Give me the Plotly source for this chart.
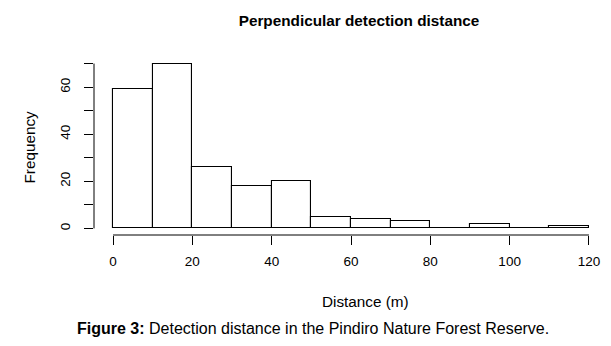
import plotly.graph_objects as go

# Histogram data (bin edges in metres, counts)
bin_edges = [0, 10, 20, 30, 40, 50, 60, 70, 80, 90, 100, 110, 120]
counts = [59, 70, 26, 18, 20, 5, 4, 3, 0, 2, 0, 1]
x_ticks = [0, 20, 40, 60, 80, 100, 120]
y_ticks = [0, 10, 20, 30, 40, 50, 60, 70]
y_tick_labels = ["0", "", "20", "", "40", "", "60", ""]

title = "Perpendicular detection distance"
x_title = "Distance (m)"
y_title = "Frequency"
caption_bold = "Figure 3:"
caption_text = " Detection distance in the Pindiro Nature Forest Reserve."

centers = [(a + b) / 2 for a, b in zip(bin_edges[:-1], bin_edges[1:])]
widths = [b - a for a, b in zip(bin_edges[:-1], bin_edges[1:])]

FONT = "Liberation Sans, Arial, sans-serif"

# page body has an 8px default margin, so the figure is drawn 8px smaller
W, H = 603, 338
L, R, T, B = 86, 3, 49, 111
PW, PH = W - L - R, H - T - B


def px(xp):
    return (xp - L) / PW


def py(yp):
    return 1 - (yp - T) / PH


fig = go.Figure()
fig.add_trace(go.Bar(
    x=centers, y=counts, width=widths,
    marker=dict(color="white", line=dict(color="black", width=1.1)),
    showlegend=False, hoverinfo="x+y",
))

xmin, xmax = bin_edges[0], bin_edges[-1]
xpad = 0.04 * (xmax - xmin)
ymax = max(y_ticks)
ypad = 0.04 * ymax

fig.update_layout(
    width=W, height=H,
    margin=dict(l=L, r=R, t=T, b=B),
    paper_bgcolor="white", plot_bgcolor="white",
    font=dict(family=FONT, size=13.5, color="black"),
    bargap=0,
    title=dict(text="<b>" + title + "</b>", x=351 / W, xanchor="center",
               y=1 - 13 / H, yanchor="middle",
               font=dict(size=15.3, family=FONT, color="black")),
    xaxis=dict(range=[xmin - xpad, xmax + xpad], tickvals=x_ticks,
               ticks="outside", ticklen=9, tickwidth=1, tickcolor="black",
               showgrid=False, zeroline=False, showline=False,
               ticklabelstandoff=5, tickfont=dict(size=13.5, color="black")),
    yaxis=dict(range=[-ypad, ymax + ypad], tickvals=y_ticks, ticktext=y_tick_labels,
               ticks="outside", ticklen=9, tickwidth=1, tickcolor="black",
               tickangle=-90, showgrid=False, zeroline=False, showline=False,
               ticklabelstandoff=9, tickfont=dict(size=13.5, color="black")),
    shapes=[
        dict(type="line", xref="x", yref="paper", x0=min(x_ticks), x1=max(x_ticks),
             y0=0, y1=0, line=dict(color="black", width=1)),
        dict(type="line", xref="paper", yref="y", x0=0, x1=0,
             y0=min(y_ticks), y1=max(y_ticks), line=dict(color="black", width=1)),
    ],
    annotations=[
        dict(text=x_title, xref="paper", yref="paper", x=px(357), y=py(293),
             xanchor="center", yanchor="middle", showarrow=False,
             font=dict(size=15.3, family=FONT, color="black")),
        dict(text=y_title, xref="paper", yref="paper", x=px(21), y=py(139.5),
             xanchor="center", yanchor="middle", textangle=-90, showarrow=False,
             font=dict(size=15.3, family=FONT, color="black")),
        dict(text="<b>" + caption_bold + "</b>" + caption_text, xref="paper", yref="paper",
             x=px(67), y=py(320), xanchor="left", yanchor="middle",
             showarrow=False, font=dict(size=16, family=FONT, color="black")),
    ],
)

fig.write_html("out.html")
